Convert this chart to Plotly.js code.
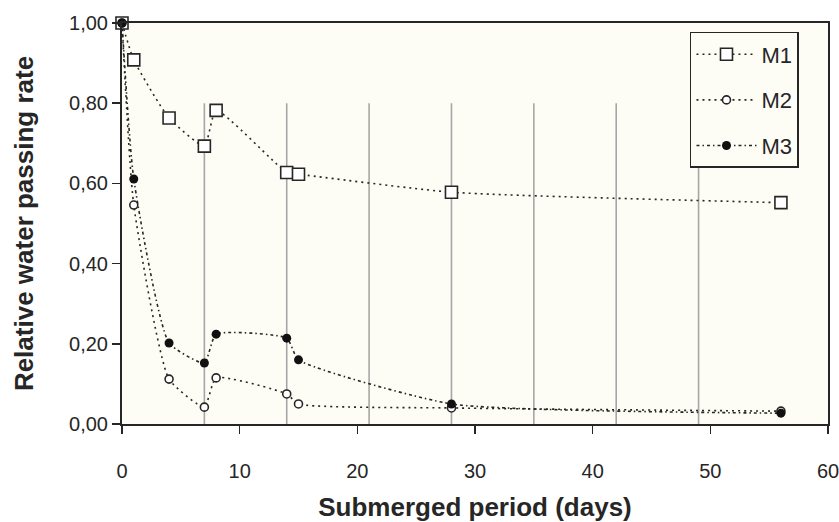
<!DOCTYPE html>
<html>
<head>
<meta charset="utf-8">
<script src="https://cdn.plot.ly/plotly-3.0.1.min.js"></script>
<style>html,body{margin:0;padding:0;background:#fff;}#chart{width:839px;height:522px;}</style>
</head>
<body>
<div id="chart"></div>
<script>
const days = [0, 1, 4, 7, 8, 14, 15, 28, 56];
const m1 = [1.00, 0.908, 0.763, 0.693, 0.782, 0.627, 0.623, 0.578, 0.552];
const m2 = [1.00, 0.546, 0.112, 0.042, 0.115, 0.075, 0.050, 0.040, 0.032];
const m3 = [1.00, 0.611, 0.202, 0.152, 0.224, 0.214, 0.160, 0.050, 0.027];
const seriesNames = ['M1', 'M2', 'M3'];
const weekLines = [7, 14, 21, 28, 35, 42, 49];
const gridTop = 0.8;

const ink = '#262626';
const lineStyle = {color: ink, width: 1.6, shape: 'spline', smoothing: 0.5};
const traces = [
  {x: days, y: m1, name: seriesNames[0], legendgroup: 'a', mode: 'lines+markers',
   line: Object.assign({}, lineStyle, {dash: '2px,4px'}),
   marker: {symbol: 'square', size: 12, color: '#ffffff', line: {color: ink, width: 1.6}}},
  {x: days, y: m2, name: seriesNames[1], legendgroup: 'b', mode: 'lines+markers',
   line: Object.assign({}, lineStyle, {dash: '2px,4px'}),
   marker: {symbol: 'circle', size: 8, color: '#ffffff', line: {color: ink, width: 1.6}}},
  {x: days, y: m3, name: seriesNames[2], legendgroup: 'c', mode: 'lines+markers',
   line: Object.assign({}, lineStyle, {dash: '3px,3px,1.5px,3px'}),
   marker: {symbol: 'circle', size: 9, color: '#111111'}}
];
traces.forEach(t => t.cliponaxis = false);

const shapes = weekLines.map(d => ({
  type: 'line', xref: 'x', yref: 'y', x0: d, x1: d, y0: 0, y1: gridTop,
  line: {color: '#a6a6a6', width: 1.6}, layer: 'below'
}));

const layout = {
  width: 839, height: 522,
  margin: {l: 122, r: 11, t: 23, b: 98},
  paper_bgcolor: '#ffffff',
  plot_bgcolor: '#fdfdf6',
  separators: ', ',
  font: {family: 'Liberation Sans, Arial, sans-serif', color: ink},
  showlegend: true,
  legend: {
    x: 0.8045, y: 0.9776, xanchor: 'left', yanchor: 'top',
    bgcolor: '#fdfdf6', bordercolor: ink, borderwidth: 1.5,
    font: {size: 22, color: ink}, traceorder: 'grouped', tracegroupgap: 14,
    itemwidth: 60
  },
  xaxis: {
    range: [0, 60], dtick: 10, tick0: 0, showgrid: false, zeroline: false,
    showline: true, linecolor: ink, linewidth: 2, mirror: true,
    ticks: 'outside', ticklen: 8, tickwidth: 1.6, tickcolor: ink,
    ticklabelstandoff: 20, ticklabeloverflow: 'allow',
    tickfont: {size: 20, color: ink},
    title: {text: '<b>Submerged period (days)</b>', font: {size: 26, color: ink}, standoff: 22}
  },
  yaxis: {
    range: [0, 1], dtick: 0.2, tick0: 0, tickformat: '.2f', showgrid: false, zeroline: false,
    showline: true, linecolor: ink, linewidth: 2, mirror: true,
    ticks: 'outside', ticklen: 8, tickwidth: 1.6, tickcolor: ink,
    ticklabeloverflow: 'allow',
    tickfont: {size: 20, color: ink},
    title: {text: '<b>Relative water passing rate</b>', font: {size: 26, color: ink}, standoff: 28}
  },
  shapes: shapes
};

Plotly.newPlot('chart', traces, layout, {displayModeBar: false, staticPlot: true});
</script>
</body>
</html>
